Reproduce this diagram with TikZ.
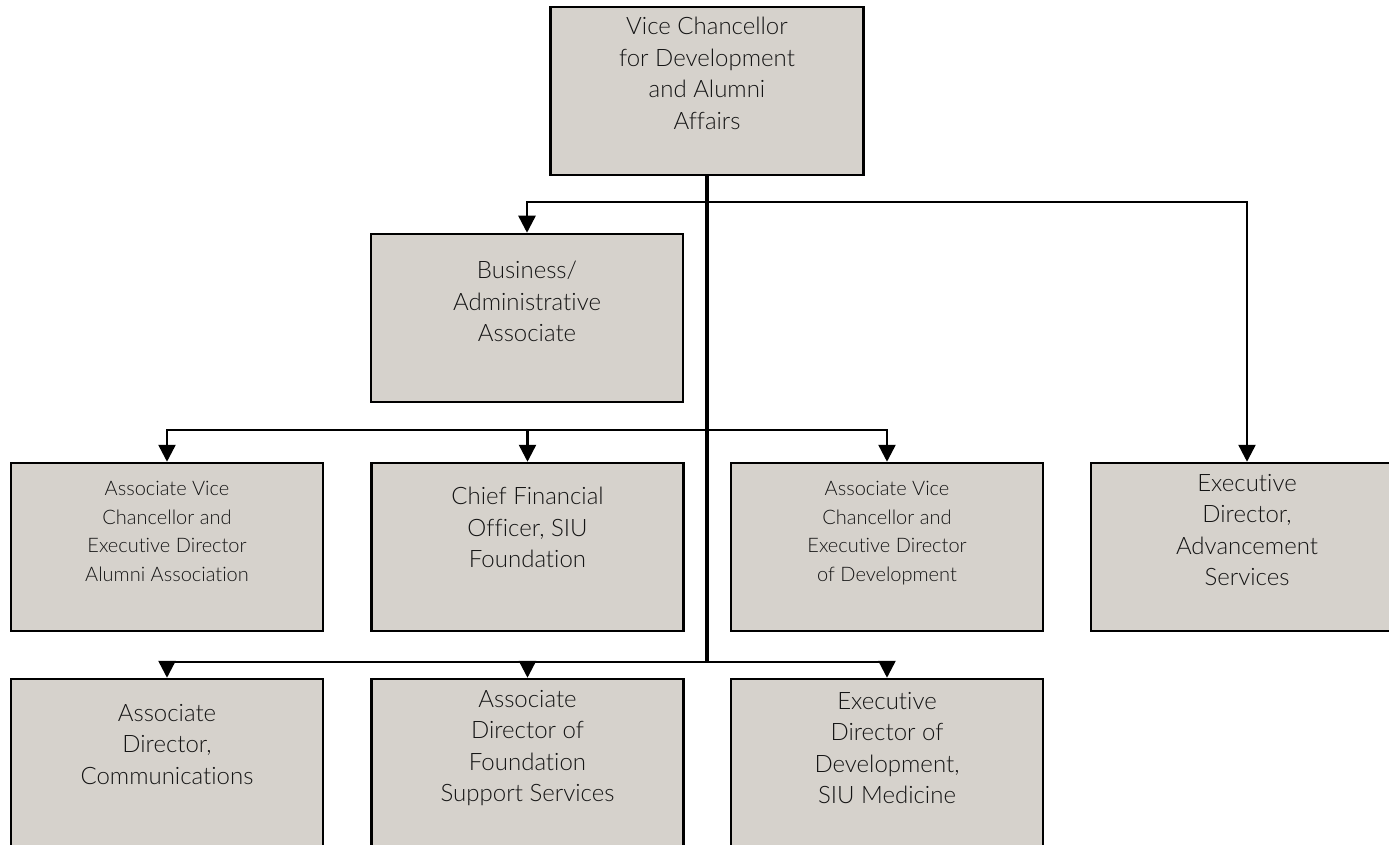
\documentclass[tikz,border=0pt]{standalone}
\usepackage{fontspec}
\setmainfont{Lato Light}[Ligatures=NoCommon]
\usetikzlibrary{arrows.meta}
\definecolor{boxfill}{RGB}{214,210,204}
\definecolor{txt}{RGB}{20,20,20}
\begin{document}
\begin{tikzpicture}[x=1pt,y=-1pt,
  orgbox/.style={draw=black,line width=2.5pt,fill=boxfill,minimum width=312pt,minimum height=168pt,inner sep=0pt,anchor=center},
  lbl/.style={anchor=north,align=center,inner sep=0pt,text=txt,font=\fontsize{24}{31.5}\selectfont},
  lblsm/.style={lbl,font=\fontsize{20}{28.7}\selectfont},
  conn/.style={line width=2.5pt},
  trunk/.style={line width=3.5pt},
  arr/.style={conn,-{Triangle[length=17pt,width=17pt]}}]
\useasboundingbox (0,0) rectangle (1389,845);
\clip (0,0) rectangle (1389,845);
% boxes
\node[orgbox,minimum width=313pt] (vc) at (707,91) {};
\node[orgbox] (bus) at (527,318) {};
\node[orgbox] (ava) at (167,547) {};
\node[orgbox] (cfo) at (527.5,547) {};
\node[orgbox] (avd) at (887,547) {};
\node[orgbox] (exa) at (1247,547) {};
\node[orgbox] (adc) at (167,763) {};
\node[orgbox] (adf) at (527.5,763) {};
\node[orgbox] (edd) at (887,763) {};
% labels
\node[lbl] (vct) at (707,17) {Vice Chancellor\\for Development\\and Alumni\\Affairs};
\node[lbl] (bust) at (527,261) {Business/\\Administrative\\Associate};
\node[lblsm] (avat) at (167,481) {Associate Vice\\Chancellor and\\Executive Director\\Alumni Association};
\node[lbl] (cfot) at (527.5,487) {Chief Financial\\Officer, SIU\\Foundation};
\node[lblsm] (avdt) at (887,481) {Associate Vice\\Chancellor and\\Executive Director\\of Development};
\node[lbl] (exat) at (1247,474) {Executive\\Director,\\Advancement\\Services};
\node[lbl] (adct) at (167,704) {Associate\\Director,\\Communications};
\node[lbl] (adft) at (527.5,690) {Associate\\Director of\\Foundation\\Support Services};
\node[lbl] (eddt) at (887,692) {Executive\\Director of\\Development,\\SIU Medicine};
% connectors
\coordinate (j1) at (707,202);
\coordinate (j2) at (707,430);
\coordinate (j3) at (707,662);
\draw[trunk] (vc.south) -- (j3);
\draw[arr] (j1) -| (bus.north);
\draw[arr] (j1) -| (exa.north);
\draw[arr] (j2) -| (ava.north);
\draw[arr] (j2) -| (cfo.north);
\draw[arr] (j2) -| (avd.north);
\draw[arr] (j3) -| (adc.north);
\draw[arr] (j3) -| (adf.north);
\draw[arr] (j3) -| (edd.north);
\end{tikzpicture}
\end{document}
